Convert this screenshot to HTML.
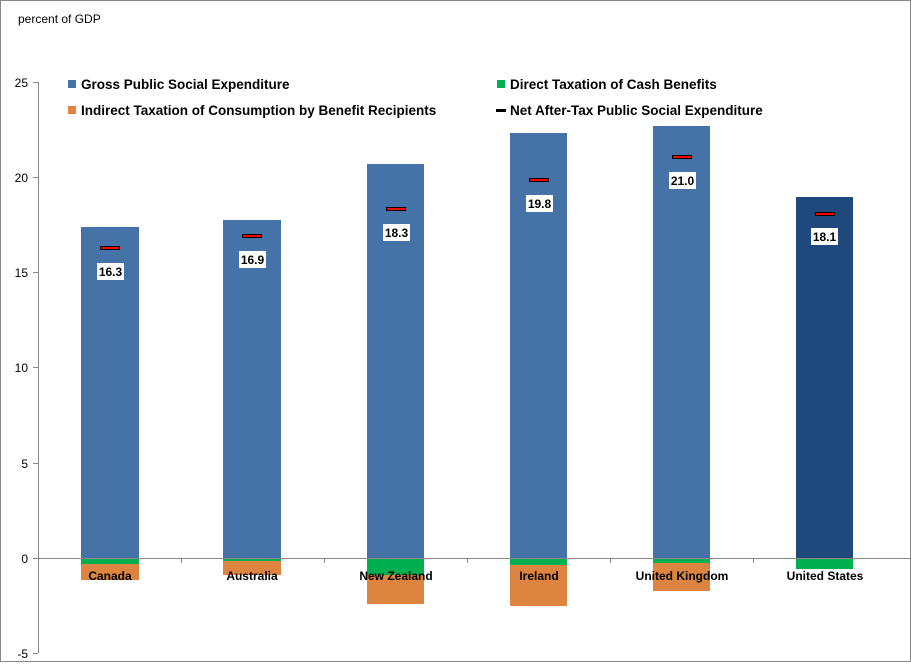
<!DOCTYPE html>
<html><head><style>
body{margin:0;width:911px;height:662px;overflow:hidden;background:#fff;font-family:"Liberation Sans",Arial,sans-serif}
</style></head><body>
<svg width="911" height="662" xmlns="http://www.w3.org/2000/svg" font-family="Liberation Sans, Arial, sans-serif">
<rect x="0.5" y="0.5" width="910" height="661" fill="#fff" stroke="#888"/>
<text x="18" y="23" font-size="12" fill="#000">percent of GDP</text>
<g>
<rect x="81" y="227" width="58" height="331" fill="#4572A7"/>
<rect x="81" y="558" width="58" height="6" fill="#00B050"/>
<rect x="81" y="564" width="58" height="16" fill="#DD8540"/>
<rect x="223" y="220" width="58" height="338" fill="#4572A7"/>
<rect x="223" y="558" width="58" height="3" fill="#00B050"/>
<rect x="223" y="561" width="58" height="14" fill="#DD8540"/>
<rect x="367" y="164" width="57" height="394" fill="#4572A7"/>
<rect x="367" y="558" width="57" height="17" fill="#00B050"/>
<rect x="367" y="575" width="57" height="29" fill="#DD8540"/>
<rect x="510" y="133" width="57" height="425" fill="#4572A7"/>
<rect x="510" y="558" width="57" height="7" fill="#00B050"/>
<rect x="510" y="565" width="57" height="41" fill="#DD8540"/>
<rect x="653" y="126" width="57" height="432" fill="#4572A7"/>
<rect x="653" y="558" width="57" height="5" fill="#00B050"/>
<rect x="653" y="563" width="57" height="28" fill="#DD8540"/>
<rect x="796" y="197" width="57" height="361" fill="#1F497D"/>
<rect x="796" y="558" width="57" height="11" fill="#00B050"/>
</g>
<g stroke="#888" stroke-width="1">
<line x1="38.5" y1="82" x2="38.5" y2="653"/>
<line x1="33" y1="82.5" x2="38" y2="82.5"/>
<line x1="33" y1="177.5" x2="38" y2="177.5"/>
<line x1="33" y1="272.5" x2="38" y2="272.5"/>
<line x1="33" y1="367.5" x2="38" y2="367.5"/>
<line x1="33" y1="463.5" x2="38" y2="463.5"/>
<line x1="33" y1="558.5" x2="38" y2="558.5"/>
<line x1="33" y1="653.5" x2="38" y2="653.5"/>
<line x1="38" y1="558.5" x2="910" y2="558.5"/>
<line x1="181.5" y1="558" x2="181.5" y2="563"/>
<line x1="324.5" y1="558" x2="324.5" y2="563"/>
<line x1="467.5" y1="558" x2="467.5" y2="563"/>
<line x1="610.5" y1="558" x2="610.5" y2="563"/>
<line x1="753.5" y1="558" x2="753.5" y2="563"/>
</g>
<g font-size="12" text-anchor="end" fill="#000">
<text x="28" y="87">25</text><text x="28" y="182">20</text><text x="28" y="277">15</text>
<text x="28" y="372">10</text><text x="28" y="468">5</text><text x="28" y="563">0</text><text x="28" y="658">-5</text>
</g>
<g font-size="12" text-anchor="middle" fill="#000" font-weight="bold">
<text x="110" y="580">Canada</text><text x="252" y="580">Australia</text><text x="396" y="580">New Zealand</text>
<text x="539" y="580">Ireland</text><text x="682" y="580">United Kingdom</text><text x="825" y="580">United States</text>
</g>
<g stroke="#000" stroke-width="1" fill="#f00">
<rect x="100.5" y="246.5" width="19" height="3"/>
<rect x="242.5" y="234.5" width="19" height="3"/>
<rect x="386.5" y="207.5" width="19" height="3"/>
<rect x="529.5" y="178.5" width="19" height="3"/>
<rect x="672.5" y="155.5" width="19" height="3"/>
<rect x="815.5" y="212.5" width="19" height="3"/>
</g>
<g fill="#fff">
<rect x="97" y="263" width="27" height="17"/><rect x="239" y="251" width="27" height="17"/>
<rect x="383" y="224" width="27" height="17"/><rect x="526" y="195" width="27" height="17"/>
<rect x="669" y="172" width="27" height="17"/><rect x="811" y="228" width="27" height="17"/>
</g>
<g font-size="12" font-weight="bold" text-anchor="middle" fill="#000">
<text x="110.5" y="276">16.3</text><text x="252.5" y="264">16.9</text><text x="396.5" y="237">18.3</text>
<text x="539.5" y="208">19.8</text><text x="682.5" y="185">21.0</text><text x="824.5" y="241">18.1</text>
</g>
<g font-size="13.5" font-weight="bold" fill="#000">
<rect x="68" y="80" width="8" height="8" fill="#4572A7"/><text x="81" y="89">Gross Public Social Expenditure</text>
<rect x="68" y="106" width="8" height="8" fill="#DD8540"/><text x="81" y="115">Indirect Taxation of Consumption by Benefit Recipients</text>
<rect x="497" y="80" width="8" height="8" fill="#00B050"/><text x="510" y="89">Direct Taxation of Cash Benefits</text>
<rect x="496" y="109" width="10" height="3" fill="#000"/><text x="510" y="115">Net After-Tax Public Social Expenditure</text>
</g>
</svg>
</body></html>
